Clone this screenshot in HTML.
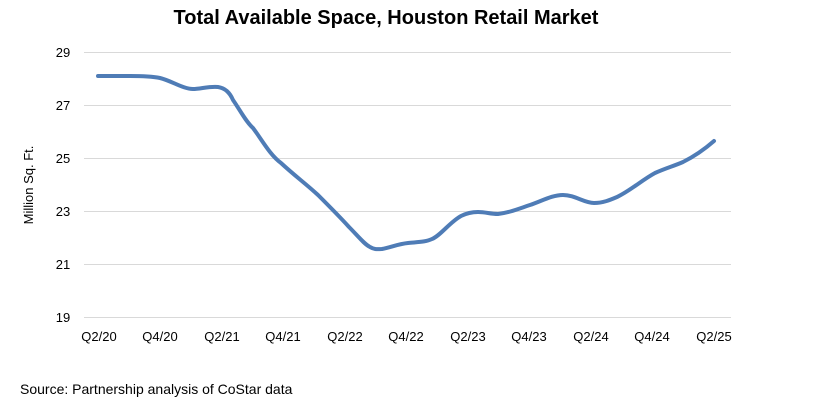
<!DOCTYPE html>
<html><head><style>
body{margin:0;background:#fff;}
svg{display:block;font-family:"Liberation Sans",sans-serif;}
</style></head><body>
<svg width="836" height="410" viewBox="0 0 836 410">
<text x="386" y="24" text-anchor="middle" font-size="20" font-weight="bold" fill="#000">Total Available Space, Houston Retail Market</text>
<g stroke="#d9d9d9" stroke-width="1">
<line x1="84" y1="52.5" x2="731" y2="52.5"/>
<line x1="84" y1="105.5" x2="731" y2="105.5"/>
<line x1="84" y1="158.5" x2="731" y2="158.5"/>
<line x1="84" y1="211.5" x2="731" y2="211.5"/>
<line x1="84" y1="264.5" x2="731" y2="264.5"/>
<line x1="84" y1="317.5" x2="731" y2="317.5"/>
</g>
<g font-size="13" fill="#000" text-anchor="middle">
<text x="63" y="57">29</text><text x="63" y="110">27</text><text x="63" y="163">25</text>
<text x="63" y="216">23</text><text x="63" y="269">21</text><text x="63" y="322">19</text>
<text x="99" y="341">Q2/20</text><text x="160" y="341">Q4/20</text><text x="222" y="341">Q2/21</text>
<text x="283" y="341">Q4/21</text><text x="345" y="341">Q2/22</text><text x="406" y="341">Q4/22</text>
<text x="468" y="341">Q2/23</text><text x="529" y="341">Q4/23</text><text x="591" y="341">Q2/24</text>
<text x="652" y="341">Q4/24</text><text x="714" y="341">Q2/25</text>
</g>
<text transform="translate(33,185) rotate(-90)" text-anchor="middle" font-size="13" fill="#000">Million Sq. Ft.</text>
<text x="20" y="394" font-size="14" fill="#000">Source: Partnership analysis of CoStar data</text>
<path d="M98,76 L130,76 C140,76 150,76 160,78 C172,81 183,89 193,89 C200,89 210,86 218,87 C225,88 230,93 233,100 C240,110 246,122 253,128 C262,140 270,155 281,163 C295,176 305,183 318,195 C330,207 340,217 349,227 C358,236 364,244 370,247 C375,250 378,249 382,249 C392,247 398,244 408,243 C418,242 426,242 432,239 C440,236 450,222 461,216 C467,213 472,212 478,212 C486,212 490,214 498,214 C508,213 518,209 530,205 C542,201 552,195 563,195 C575,195 584,203 594,203 C603,203 610,200 617,197 C630,191 642,180 655,173 C666,168 674,166 683,162 C695,156 706,148 714,141" fill="none" stroke="#4f7cb6" stroke-width="4" stroke-linecap="round" stroke-linejoin="round"/>
</svg>
</body></html>
